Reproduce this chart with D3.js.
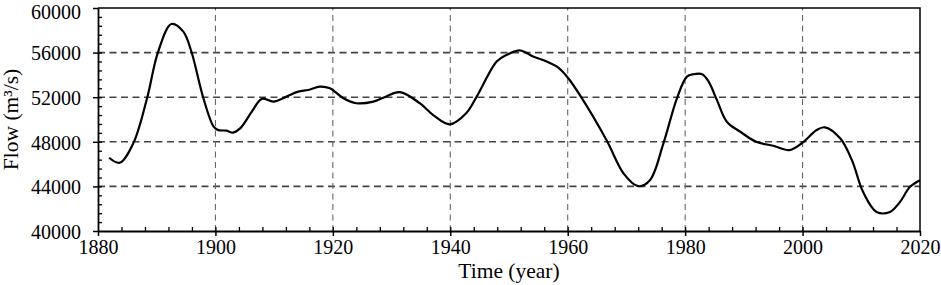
<!DOCTYPE html>
<html>
<head>
<meta charset="utf-8">
<script src="https://cdn.jsdelivr.net/npm/d3@7"></script>
<style>
  body { margin: 0; background: white; }
  text { font-family: "Liberation Serif", "Times New Roman", serif; }
</style>
</head>
<body>
<div class="content"></div>
<script>
// values
const years = [1881.9, 1883.7, 1886, 1888.4, 1890.2, 1892.5, 1894.5, 1895.9, 1897.9, 1899.7,
  1900.5, 1901.9, 1903, 1904.2, 1906.2, 1907.9, 1909.9, 1912.1, 1914.1, 1915.8,
  1917.8, 1919.5, 1921.8, 1924, 1926.9, 1928.8, 1931.4, 1934.8, 1937.1, 1939.95,
  1942.7, 1944.5, 1947.9, 1949.6, 1951.9, 1954.1, 1956.4, 1958.4, 1960.1, 1962.3,
  1966.6, 1969.6, 1972, 1974, 1976.3, 1978.6, 1980.3, 1981.4, 1982.9, 1984,
  1985.4, 1987.1, 1989.4, 1992.1, 1995, 1997.8, 2000, 2002.4, 2003.8, 2006.4,
  2008.4, 2010.3, 2012.6, 2014.9, 2016.6, 2018.3, 2020]
const flows = [46570, 46120, 47860, 52000, 56000, 58560, 57900, 56100, 52000, 49360,
  49050, 49000, 48820, 49200, 50700, 51850, 51600, 52050, 52500, 52650,
  52950, 52800, 51900, 51460, 51600, 52000, 52450, 51460, 50400, 49570,
  50560, 52050, 55200, 55800, 56190, 55650, 55200, 54650, 53700, 52000,
  48160, 45100, 44020, 44560, 47860, 51900, 53850, 54060, 54060, 53400,
  51760, 49800, 48900, 48000, 47650, 47260, 47920, 49060, 49300, 48310,
  46360, 43510, 41710, 41710, 42610, 43960, 44560]
const xTicks = [1880, 1900, 1920, 1940, 1960, 1980, 2000, 2020]
const yTicks = [40000, 44000, 48000, 52000, 56000, 60000]

const width = 941, height = 285
const margin = {left: 98, right: 21, top: 8, bottom: 54}

const svg = d3.select('div.content')
    .append('svg')
    .attr('width', width)
    .attr('height', height)

const x = d3.scaleLinear().domain([1880, 2020]).range([margin.left, width - margin.right])
const y = d3.scaleLinear().domain([40000, 60000]).range([height - margin.bottom, margin.top])

// dashed grid
svg.append('g')
    .selectAll('line')
    .data(yTicks.slice(1, -1))
    .join('line')
    .attr('x1', x(1880)).attr('x2', x(2020))
    .attr('y1', d => y(d)).attr('y2', d => y(d))
    .attr('stroke', '#444').attr('stroke-width', 1.6)
    .attr('stroke-dasharray', '7,4.5')
svg.append('g')
    .selectAll('line')
    .data(xTicks.slice(1, -1))
    .join('line')
    .attr('x1', d => x(d)).attr('x2', d => x(d))
    .attr('y1', y(40000)).attr('y2', y(60000))
    .attr('stroke', '#666').attr('stroke-width', 1.1)
    .attr('stroke-dasharray', '6,4.5')

// frame top / right
svg.append('path')
    .attr('d', `M${x(1880)},${y(60000)}H${x(2020)}V${y(40000)}`)
    .attr('fill', 'none').attr('stroke', 'black').attr('stroke-width', 1.5)

// minor ticks (inward)
svg.append('g')
    .attr('transform', `translate(0,${y(40000)})`)
    .call(d3.axisTop(x).tickValues(d3.range(1884, 2020, 4)).tickSize(4).tickFormat(''))
    .call(g => g.select('.domain').remove())
    .selectAll('line').attr('stroke-width', 1.3)
svg.append('g')
    .attr('transform', `translate(${x(1880)},0)`)
    .call(d3.axisRight(y).tickValues(d3.range(40800, 60000, 800)).tickSize(4).tickFormat(''))
    .call(g => g.select('.domain').remove())
    .selectAll('line').attr('stroke-width', 1.3)

// main axes
const xAxis = svg.append('g')
    .attr('transform', `translate(0,${y(40000)})`)
    .call(d3.axisBottom(x).tickValues(xTicks).tickSize(5).tickSizeOuter(0).tickFormat(d3.format('d')).tickPadding(4))
xAxis.select('.domain').attr('stroke-width', 1.8)
xAxis.selectAll('line').attr('stroke-width', 1.5)
xAxis.selectAll('text').attr('font-size', 20).attr('fill', 'black')
    .style('font-family', '"Liberation Serif", serif')

const yAxis = svg.append('g')
    .attr('transform', `translate(${x(1880)},0)`)
    .call(d3.axisLeft(y).tickValues(yTicks).tickSize(5).tickSizeOuter(0).tickFormat(d3.format('d')).tickPadding(12))
yAxis.select('.domain').attr('stroke-width', 1.8)
yAxis.selectAll('line').attr('stroke-width', 1.5)
yAxis.selectAll('text').attr('font-size', 20).attr('fill', 'black')
    .attr('dy', d => d === 60000 ? '0.5em' : '0.36em')
    .style('font-family', '"Liberation Serif", serif')

// curve
const line = d3.line()
    .x((d, i) => x(years[i]))
    .y(d => y(d))
    .curve(d3.curveCatmullRom.alpha(0.5))
svg.append('path')
    .datum(flows)
    .attr('d', line)
    .attr('fill', 'none')
    .attr('stroke', 'black')
    .attr('stroke-width', 2.2)

// titles
svg.append('text')
    .attr('x', (x(1880) + x(2020)) / 2)
    .attr('y', 278)
    .attr('text-anchor', 'middle')
    .attr('font-size', 21.5)
    .text('Time (year)')
svg.append('text')
    .attr('transform', `translate(18,${(y(40000) + y(60000)) / 2}) rotate(-90)`)
    .attr('text-anchor', 'middle')
    .attr('font-size', 21.5)
    .text('Flow (m³/s)')
</script>
</body>
</html>
